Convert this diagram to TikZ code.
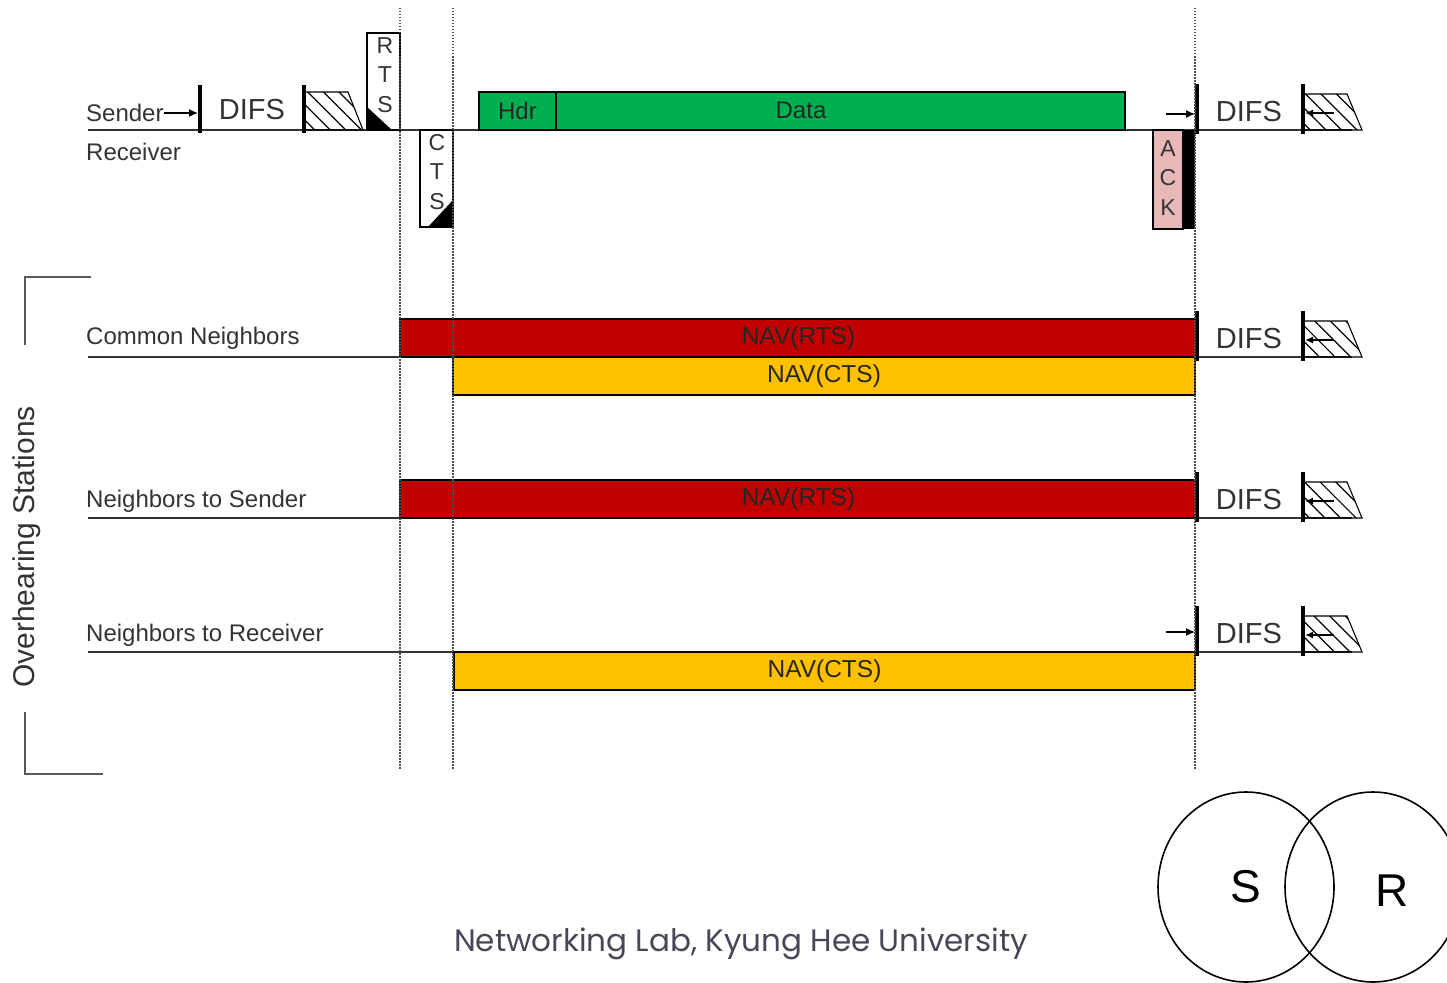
\documentclass[tikz,border=0pt]{standalone}
\usepackage{fontspec}
\setmainfont{Liberation Sans}
\newfontfamily\footfont{Poppins}
\usetikzlibrary{arrows.meta,patterns.meta,shapes.geometric}

\definecolor{navred}{HTML}{C00000}
\definecolor{navyel}{HTML}{FFC000}
\definecolor{datagrn}{HTML}{00B050}
\definecolor{ackpink}{HTML}{E6B9B8}
\definecolor{linegry}{HTML}{333333}
\definecolor{footgry}{HTML}{474759}

\begin{document}
\begin{tikzpicture}[x=1pt,y=-1pt,
  lbl/.style={font=\fontsize{24}{28}\selectfont,text=linegry,anchor=west,inner sep=0pt},
  difs/.style={font=\fontsize{29}{32}\selectfont,text=linegry,inner sep=0pt},
  frame/.style={draw=black,line width=1.3pt,inner sep=0pt,outer sep=0pt},
  stack/.style={font=\fontsize{23}{29.5}\selectfont,align=center,inner sep=0pt,text=linegry},
  navbox/.style={frame,minimum height=38pt,font=\fontsize{24.5}{28}\selectfont,text=black!85},
  tline/.style={draw=linegry,line width=1.8pt},
  sbar/.style={fill=black,inner sep=0pt,outer sep=0pt,minimum width=4pt},
  hatch/.style={draw=black,line width=1.1pt,
    pattern={Lines[angle=-45,distance=11pt,line width=1.2pt]}},
  vdot/.style={draw=black!70,line width=1.3pt,dash pattern=on 1.5pt off 1.5pt},
  brk/.style={draw=black!65,line width=1.8pt},
  arr/.style={draw=black,line width=1.4pt,-{Latex[length=9pt,width=8pt]}}]

 \useasboundingbox (0,0) rectangle (1447,982);

 \foreach \y in {130,357,518,652}
   \draw[tline] (88,\y) -- (1352,\y);

 \node[lbl] (sender) at (86,113) {Sender};
 \node[lbl] (receiver) at (86,152) {Receiver};
 \node[lbl] (common) at (86,338) {Common Neighbors};
 \node[lbl] (nbsnd) at (86,501) {Neighbors to Sender};
 \node[lbl] (nbrcv) at (86,635) {Neighbors to Receiver};

 \draw[hatch] (305,92) -- (348,92) -- (363,130) -- (305,130) -- cycle;
 \node[sbar,minimum height=48pt,anchor=north] (difsA) at (200,85) {};
 \node[sbar,minimum height=48pt,anchor=north] (difsB) at (304,85) {};
 \draw[arr] (sender.east) -- (sender.east -| difsA.west);
 \node[difs] (difsS) at (252,110) {DIFS};

 \node[frame,fill=white,minimum width=33pt,minimum height=97pt,anchor=south west] (rts) at (367,130) {};
 \fill ([yshift=23pt]rts.south west) -- (rts.south west) -- ([xshift=25pt]rts.south west) -- cycle;
 \node[stack] (rtstxt) at (385,75) {R\\T\\S};

 \node[frame,fill=white,minimum width=33pt,minimum height=97pt,anchor=north west] (cts) at (420,130) {};
 \fill ([yshift=27pt]cts.south east) -- (cts.south east) -- ([xshift=-25pt]cts.south east) -- cycle;
 \node[stack] (ctstxt) at (437,172) {C\\T\\S};

 \node[frame,fill=datagrn,minimum width=77pt,minimum height=38pt,anchor=south west,
       font=\fontsize{24}{28}\selectfont,text=black!85] (hdr) at (479,130) {Hdr};
 \node[frame,fill=datagrn,minimum width=569pt,minimum height=38pt,anchor=south west] (data) at (556,130) {};
 \node[font=\fontsize{24}{28}\selectfont,text=black!85,inner sep=0pt] (datatxt) at (801,110) {Data};

 \node[frame,fill=ackpink,minimum width=30pt,minimum height=99pt,anchor=north west] (ack) at (1153,130) {};
 \node[fill=black,inner sep=0pt,minimum width=12pt,minimum height=99pt,anchor=north west] (ackbar) at (1183,130) {};
 \node[stack] (acktxt) at (1168,178) {A\\C\\K};

 \node[navbox,fill=navred,minimum width=797pt,anchor=south west] (rtsnavA) at (400,357) {NAV(RTS)};
 \node[navbox,fill=navyel,minimum width=742pt,anchor=north west] (ctsnavA) at (453,357) {NAV(CTS)};
 \node[navbox,fill=navred,minimum width=797pt,anchor=south west] (rtsnavB) at (400,518) {NAV(RTS)};
 \node[navbox,fill=navyel,minimum width=741pt,anchor=north west] (ctsnavB) at (454,652) {NAV(CTS)};

 \foreach \y/\n in {130/snd,357/cn,518/ns,652/nr} {
   \draw[hatch] (1304,\y-36) -- (1347,\y-36) -- (1362,\y) -- (1304,\y) -- cycle;
   \node[sbar,minimum height=50pt,anchor=south] (end\n) at (1197,\y+4) {};
   \node[sbar,minimum height=50pt,anchor=south] (bo\n) at (1303,\y+4) {};
   \node[difs] (difs\n) at (1249,\y-18) {DIFS};
   \coordinate (bk\n) at (1334,\y-17);
   \draw[arr,-{Latex[length=8pt,width=7pt]}] (bk\n) -- (bk\n -| bo\n.east);
 }
 \coordinate (ackin) at (1166,114);
 \draw[arr] (ackin) -- (ackin -| endsnd.west);
 \coordinate (nrin) at (1166,632);
 \draw[arr] (nrin) -- (nrin -| endnr.west);

 \foreach \x in {400,453,1195}
   \draw[vdot] (\x,8) -- (\x,770);

 \draw[brk] (91,277) -- (25,277) -- (25,345);
 \draw[brk] (25,712) -- (25,774) -- (103,774);
 \node[rotate=90,font=\fontsize{30}{34}\selectfont,text=linegry,inner sep=0pt] (over) at (27,547) {Overhearing Stations};

 \node[font=\footfont\fontsize{31}{35}\selectfont,text=footgry,inner sep=0pt] (foot) at (741,944) {Networking Lab, Kyung Hee University};

 \node[draw,ellipse,line width=1.6pt,minimum width=176pt,minimum height=190pt,inner sep=0pt,
       font=\fontsize{46}{50}\selectfont] (snode) at (1246,887) {S};
 \node[draw,ellipse,line width=1.6pt,minimum width=176pt,minimum height=190pt,inner sep=0pt] (rnode) at (1373,887) {};
 \node[font=\fontsize{46}{50}\selectfont,inner sep=0pt] (rtxt) at (1392,891) {R};
\end{tikzpicture}
\end{document}
